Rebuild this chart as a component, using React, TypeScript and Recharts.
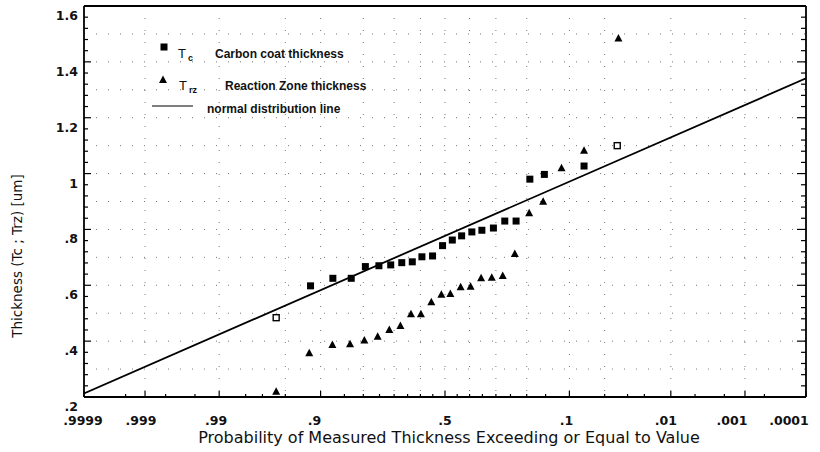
import { ScatterChart, Scatter, XAxis, YAxis, CartesianGrid, Legend } from "recharts";

// exceedance probabilities shown on the normal-probability axis
const probLabels = [0.9999, 0.999, 0.99, 0.9, 0.5, 0.1, 0.01, 0.001, 0.0001];
// small horizontal nudges of the printed labels (the two last ones are kept inside the frame)
const probLabelShift = [-1, -4, -3, -6, 0, -3, -5, -13, -17];
const probMinor = [
  0.9995, 0.998, 0.995, 0.98, 0.97, 0.95, 0.85, 0.8, 0.75, 0.7, 0.65, 0.6, 0.55,
  0.45, 0.4, 0.35, 0.3, 0.25, 0.2, 0.15, 0.05, 0.03, 0.02, 0.005, 0.002, 0.0005,
];
const probGrid = [0.999, 0.99, 0.95, 0.9, 0.8, 0.7, 0.6, 0.5, 0.4, 0.3, 0.2, 0.1, 0.05, 0.01, 0.001];

const thicknessLabels = [0.2, 0.4, 0.6, 0.8, 1, 1.2, 1.4, 1.6];
const thicknessGrid = [0.3, 0.4, 0.5, 0.6, 0.7, 0.8, 0.9, 1, 1.1, 1.2, 1.3, 1.4, 1.5];

// Tc - carbon coat thickness (filled squares)
const tcProb = [
  0.917, 0.876, 0.833, 0.794, 0.752, 0.712, 0.672, 0.632, 0.594, 0.551, 0.51,
  0.47, 0.432, 0.391, 0.352, 0.309, 0.269, 0.232, 0.191, 0.153, 0.076,
];
const tcThickness = [
  0.598, 0.625, 0.625, 0.667, 0.67, 0.673, 0.681, 0.684, 0.702, 0.705, 0.742,
  0.762, 0.777, 0.791, 0.797, 0.805, 0.83, 0.83, 0.98, 0.997, 1.027,
];
// Tc end points drawn as open squares
const tcOpenProb = [0.959, 0.038];
const tcOpenThickness = [0.484, 1.1];

// Trz - reaction zone thickness (triangles)
const trzProb = [
  0.959, 0.919, 0.877, 0.836, 0.797, 0.756, 0.717, 0.677, 0.637, 0.598, 0.556, 0.515,
  0.478, 0.436, 0.396, 0.355, 0.315, 0.276, 0.236, 0.193, 0.156, 0.115, 0.076, 0.037,
];
const trzThickness = [
  0.219, 0.357, 0.386, 0.389, 0.402, 0.416, 0.44, 0.454, 0.496, 0.496, 0.539, 0.566,
  0.569, 0.593, 0.595, 0.625, 0.627, 0.633, 0.712, 0.858, 0.899, 1.019, 1.082, 1.484,
];

// normal distribution line end points
const lineProb = [0.9999, 0.0001];
const lineThickness = [0.213, 1.341];

const TICK_FONT = "'DejaVu Sans', sans-serif";
const LEGEND_FONT = "'Liberation Sans', Arial, sans-serif";

// Acklam's approximation of the inverse normal cdf
function normInv(p: number): number {
  const a = [-39.69683028665376, 220.9460984245205, -275.9285104469687, 138.357751867269, -30.66479806614716, 2.506628277459239];
  const b = [-54.47609879822406, 161.5858368580409, -155.6989798598866, 66.80131188771972, -13.28068155288572];
  const c = [-0.007784894002430293, -0.3223964580411365, -2.400758277161838, -2.549732539343734, 4.374664141464968, 2.938163982698783];
  const d = [0.007784695709041462, 0.3224671290700398, 2.445134137142996, 3.754408661907416];
  const lo = 0.02425;
  if (p < lo) {
    const q = Math.sqrt(-2 * Math.log(p));
    return (((((c[0] * q + c[1]) * q + c[2]) * q + c[3]) * q + c[4]) * q + c[5]) /
      ((((d[0] * q + d[1]) * q + d[2]) * q + d[3]) * q + 1);
  }
  if (p > 1 - lo) return -normInv(1 - p);
  const q = p - 0.5;
  const r = q * q;
  return ((((((a[0] * r + a[1]) * r + a[2]) * r + a[3]) * r + a[4]) * r + a[5]) * q) /
    (((((b[0] * r + b[1]) * r + b[2]) * r + b[3]) * r + b[4]) * r + 1);
}

// high exceedance on the left
const toZ = (p: number) => normInv(1 - p);

const zDomain = [toZ(0.9999), toZ(0.0001)];
const majorZ = probLabels.map(toZ);
const probTicks = [...probLabels, ...probMinor].map(toZ).sort((m, n) => m - n);
const gridZ = probGrid.map(toZ);

const thicknessTicks: number[] = [];
for (let i = 0; i <= 35; i++) thicknessTicks.push(Math.round((0.2 + i * 0.04) * 100) / 100);

const toPoints = (probs: number[], values: number[]) =>
  probs.map((p, i) => ({ z: toZ(p), v: values[i] }));

const tcPoints = toPoints(tcProb, tcThickness);
const tcOpenPoints = toPoints(tcOpenProb, tcOpenThickness);
const trzPoints = toPoints(trzProb, trzThickness);
const linePoints = toPoints(lineProb, lineThickness);

const fmtProb = (p: number) => String(p).replace(/^0\./, ".");
const fmtThickness = (v: number) => (v >= 1 ? String(v) : String(v).replace(/^0\./, "."));

const majorIndex = (z: number) => majorZ.findIndex((m) => Math.abs(m - z) < 1e-6);
const isMajorThickness = (v: number) =>
  Math.abs(v * 5 - Math.round(v * 5)) < 1e-6 && thicknessLabels.some((t) => Math.abs(t - v) < 1e-6);

function BottomTick(props: any) {
  const { x, y, payload } = props;
  const i = majorIndex(payload.value);
  return (
    <g>
      <line x1={x} x2={x} y1={y} y2={y - (i >= 0 ? 6 : 3)} stroke="#000" strokeWidth={1.2} />
      {i >= 0 && (
        <text x={x + probLabelShift[i]} y={y + 28} textAnchor="middle" fontFamily={TICK_FONT} fontSize={12.5} fontWeight="bold" fill="#111">
          {fmtProb(probLabels[i])}
        </text>
      )}
    </g>
  );
}

function TopTick(props: any) {
  const { x, y } = props;
  return <line x1={x} x2={x} y1={y} y2={y + 3} stroke="#000" strokeWidth={1.2} />;
}

function LeftTick(props: any) {
  const { x, y, payload } = props;
  const major = isMajorThickness(payload.value);
  return (
    <g>
      <line x1={x} x2={x + (major ? 7 : 4)} y1={y} y2={y} stroke="#000" strokeWidth={1.2} />
      {major && (
        <text x={x - 6} y={y + 14} textAnchor="end" fontFamily={TICK_FONT} fontSize={12.5} fontWeight="bold" fill="#111">
          {fmtThickness(payload.value)}
        </text>
      )}
    </g>
  );
}

function RightTick(props: any) {
  const { x, y, payload } = props;
  const major = isMajorThickness(payload.value);
  return <line x1={x} x2={x - (major ? 9 : 5)} y1={y} y2={y} stroke="#000" strokeWidth={1.2} />;
}

function XTitle(props: any) {
  const vb = props.viewBox;
  return (
    <text x={vb.x + vb.width / 2 + 4} y={vb.y + 46} textAnchor="middle" fontFamily={TICK_FONT} fontSize={16} fill="#111">
      Probability of Measured Thickness Exceeding or Equal to Value
    </text>
  );
}

function YTitle(props: any) {
  const vb = props.viewBox;
  const cx = vb.x + 17;
  const cy = vb.y + 250;
  return (
    <text x={cx} y={cy} transform={`rotate(-90 ${cx} ${cy})`} textAnchor="middle" dominantBaseline="central" fontFamily={TICK_FONT} fontSize={13.5} fill="#111">
      Thickness (Tc ; Trz) [um]
    </text>
  );
}

const SquareDot = (props: any) => (
  <rect x={props.cx - 3.5} y={props.cy - 3.5} width={7} height={7} fill="#000" />
);
const OpenSquare = (props: any) => (
  <rect x={props.cx - 3} y={props.cy - 3} width={6} height={6} fill="#fff" stroke="#000" strokeWidth={1.4} />
);
const TriangleDot = (props: any) => (
  <polygon
    points={`${props.cx},${props.cy - 4.5} ${props.cx + 4},${props.cy + 3} ${props.cx - 4},${props.cy + 3}`}
    fill="#000"
  />
);
const NoDot = () => <g />;

function LegendBox() {
  return (
    <svg width={250} height={95} style={{ display: "block" }}>
      <rect x={15.5} y={13.5} width={7} height={7} fill="#000" />
      <text x={33} y={28} fontFamily={LEGEND_FONT} fontSize={13} fill="#111">
        T
        <tspan dx={2} dy={3} fontSize={9} fontWeight="bold">c</tspan>
      </text>
      <text x={70} y={27.5} fontFamily={LEGEND_FONT} fontSize={12} fontWeight="bold" fill="#111">
        Carbon coat thickness
      </text>

      <polygon points="18,45.5 22,53 14,53" fill="#000" />
      <text x={34} y={60} fontFamily={LEGEND_FONT} fontSize={13} fill="#111">
        T
        <tspan dx={2} dy={3} fontSize={9} fontWeight="bold">rz</tspan>
      </text>
      <text x={80} y={59.5} fontFamily={LEGEND_FONT} fontSize={12} fontWeight="bold" fill="#111">
        Reaction Zone thickness
      </text>

      <line x1={7} x2={48} y1={76} y2={76} stroke="#000" strokeWidth={1.2} />
      <text x={62} y={82.5} fontFamily={LEGEND_FONT} fontSize={12} fontWeight="bold" fill="#111">
        normal distribution line
      </text>
    </svg>
  );
}

const axisLine = { stroke: "#000", strokeWidth: 1.8 };

export default function App() {
  return (
    <div style={{ width: 820, height: 452, background: "#fff" }}>
      <style>{"body{margin:0;background:#fff}"}</style>
      <ScatterChart width={820} height={452} margin={{ top: 0, right: 0, bottom: 0, left: 0 }}>
        <CartesianGrid stroke="#777" strokeDasharray="1 11" verticalValues={gridZ} horizontalValues={thicknessGrid} />
        <XAxis
          type="number"
          dataKey="z"
          domain={zDomain}
          ticks={probTicks}
          interval={0}
          height={55}
          tickSize={0}
          tickMargin={0}
          tickLine={false}
          tick={(p: any) => <BottomTick {...p} />}
          axisLine={axisLine}
          allowDataOverflow
          label={XTitle}
        />
        <XAxis
          xAxisId="top"
          orientation="top"
          type="number"
          domain={zDomain}
          ticks={probTicks}
          interval={0}
          height={6}
          tickSize={0}
          tickMargin={0}
          tickLine={false}
          tick={(p: any) => <TopTick {...p} />}
          axisLine={axisLine}
          allowDataOverflow
        />
        <YAxis
          type="number"
          dataKey="v"
          domain={[0.2, 1.6]}
          ticks={thicknessTicks}
          interval={0}
          width={84}
          tickSize={0}
          tickMargin={0}
          tickLine={false}
          tick={(p: any) => <LeftTick {...p} />}
          axisLine={axisLine}
          allowDataOverflow
          label={YTitle}
        />
        <YAxis
          yAxisId="right"
          orientation="right"
          type="number"
          domain={[0.2, 1.6]}
          ticks={thicknessTicks}
          interval={0}
          width={14}
          tickSize={0}
          tickMargin={0}
          tickLine={false}
          tick={(p: any) => <RightTick {...p} />}
          axisLine={axisLine}
          allowDataOverflow
        />
        <Legend
          content={() => <LegendBox />}
          layout="horizontal"
          verticalAlign="middle"
          wrapperStyle={{ left: 145, top: 30, width: 250, height: 95 }}
        />
        <Scatter
          name="normal distribution line"
          data={linePoints}
          line={{ stroke: "#000", strokeWidth: 1.8 }}
          shape={NoDot}
          isAnimationActive={false}
        />
        <Scatter name="Tc" data={tcPoints} shape={SquareDot} isAnimationActive={false} />
        <Scatter name="Tc ends" data={tcOpenPoints} shape={OpenSquare} isAnimationActive={false} />
        <Scatter name="Trz" data={trzPoints} shape={TriangleDot} isAnimationActive={false} />
      </ScatterChart>
    </div>
  );
}
